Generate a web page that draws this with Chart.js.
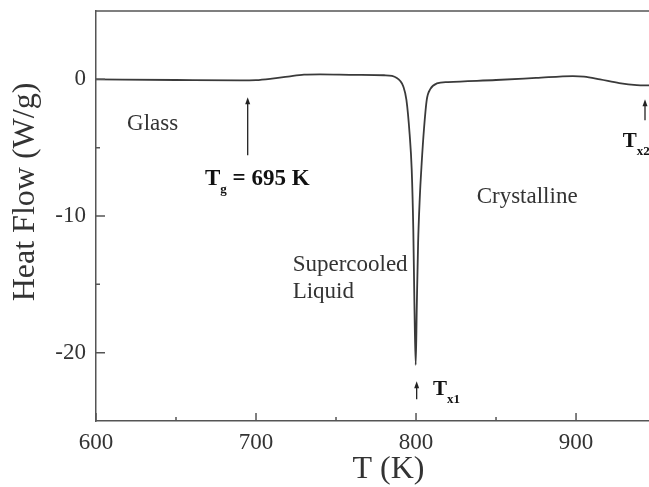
<!DOCTYPE html>
<html>
<head>
<meta charset="utf-8">
<script src="https://cdn.jsdelivr.net/npm/chart.js@4/dist/chart.umd.min.js"></script>
<style>
body{margin:0;background:#fff}
#wrap{width:649px;height:487px}
</style>
</head>
<body>
<div id="wrap"><canvas id="myChart"></canvas></div>
<script>
// DSC trace
temps = [600, 650, 690, 700, 710, 720, 730, 740, 760, 780, 785, 788, 790, 792, 794, 796, 797.3, 798.3, 799, 799.8,
         800.5, 801.3, 802.3, 803.5, 805, 806.7, 809, 813, 820, 850, 875, 898, 905, 915, 927, 938, 946]
heatFlow = [0, -0.05, -0.08, -0.06, 0.05, 0.2, 0.34, 0.36, 0.33, 0.3, 0.25, 0.1, -0.1, -0.5, -1.5, -4, -6.6, -11, -16.5, -20.9,
            -16.5, -12, -8.8, -6.2, -3.6, -1.5, -0.7, -0.3, -0.2, -0.05, 0.1, 0.24, 0.2, 0, -0.27, -0.42, -0.45]

xTicks = [600, 700, 800, 900]
xMinor = [650, 750, 850]
yTicks = [-20, -10, 0]
yMinor = [-15, -5]

serif = "'Liberation Serif','Times New Roman',serif"
ink = '#333'

// text + arrows, in data units
labels = [
  {t: 'Glass', x: 619.4, y: -3.72},
  {t: 'Supercooled', x: 722.9, y: -14.0},
  {t: 'Liquid', x: 722.9, y: -16.0},
  {t: 'Crystalline', x: 837.9, y: -9.03}
]
subLabels = [
  {t: 'T', sub: 'g', rest: ' = 695 K', x: 668.1, y: -7.74, size: 23},
  {t: 'T', sub: 'x1', rest: '', x: 810.6, y: -23.07, size: 21},
  {t: 'T', sub: 'x2', rest: '', x: 929.2, y: -4.94, size: 21}
]
arrows = [
  {x: 694.8, from: -5.55, to: -1.31},
  {x: 800.4, from: -23.4, to: -22.1},
  {x: 943.1, from: -3.0, to: -1.46}
]

extras = {
  id: 'extras',
  afterDraw(chart) {
    const ctx = chart.ctx
    const xs = chart.scales.x, ys = chart.scales.y
    const a = chart.chartArea
    ctx.save()
    ctx.strokeStyle = '#555'
    ctx.lineWidth = 1.5
    ctx.beginPath()
    ctx.moveTo(a.left, a.top)
    ctx.lineTo(a.right, a.top)
    ctx.stroke()
    // inward ticks
    ctx.beginPath()
    xTicks.forEach(v => { const p = xs.getPixelForValue(v); ctx.moveTo(p, a.bottom); ctx.lineTo(p, a.bottom - 8) })
    xMinor.forEach(v => { const p = xs.getPixelForValue(v); ctx.moveTo(p, a.bottom); ctx.lineTo(p, a.bottom - 4) })
    yTicks.forEach(v => { const p = ys.getPixelForValue(v); ctx.moveTo(a.left, p); ctx.lineTo(a.left + 9, p) })
    yMinor.forEach(v => { const p = ys.getPixelForValue(v); ctx.moveTo(a.left, p); ctx.lineTo(a.left + 4, p) })
    ctx.stroke()

    ctx.fillStyle = ink
    ctx.textBaseline = 'alphabetic'
    ctx.textAlign = 'left'
    ctx.font = '23px ' + serif
    labels.forEach(l => ctx.fillText(l.t, xs.getPixelForValue(l.x), ys.getPixelForValue(l.y)))

    ctx.fillStyle = '#111'
    subLabels.forEach(l => {
      let px = xs.getPixelForValue(l.x), py = ys.getPixelForValue(l.y)
      ctx.font = 'bold ' + l.size + 'px ' + serif
      ctx.fillText(l.t, px, py)
      px += ctx.measureText(l.t).width
      ctx.font = 'bold 13px ' + serif
      ctx.fillText(l.sub, px, py + 8)
      px += ctx.measureText(l.sub).width
      if (l.rest) {
        ctx.font = 'bold ' + l.size + 'px ' + serif
        ctx.fillText(l.rest, px, py)
      }
    })

    ctx.strokeStyle = '#222'
    ctx.fillStyle = '#222'
    ctx.lineWidth = 1.3
    arrows.forEach(ar => {
      const px = xs.getPixelForValue(ar.x)
      const y0 = ys.getPixelForValue(ar.from), y1 = ys.getPixelForValue(ar.to)
      ctx.beginPath()
      ctx.moveTo(px, y0)
      ctx.lineTo(px, y1 + 5)
      ctx.stroke()
      ctx.beginPath()
      ctx.moveTo(px, y1)
      ctx.lineTo(px - 2.5, y1 + 7)
      ctx.lineTo(px + 2.5, y1 + 7)
      ctx.closePath()
      ctx.fill()
    })
    ctx.restore()
  }
}

points = temps.map((t, i) => ({x: t, y: heatFlow[i]}))

new Chart(document.getElementById('myChart'), {
  type: 'line',
  data: {
    datasets: [{
      data: points,
      borderColor: '#3a3a3a',
      borderWidth: 1.8,
      pointRadius: 0,
      fill: false,
      cubicInterpolationMode: 'monotone'
    }]
  },
  options: {
    responsive: true,
    maintainAspectRatio: false,
    devicePixelRatio: 1,
    animation: false,
    layout: {padding: {top: 11, right: 0, bottom: 0, left: 0}},
    plugins: {legend: {display: false}, tooltip: {enabled: false}},
    scales: {
      x: {
        type: 'linear',
        min: 600,
        max: 945.6,
        afterBuildTicks: s => { s.ticks = xTicks.map(v => ({value: v})) },
        afterFit: s => { s.height = 66; s.paddingLeft = 0; s.paddingRight = 0 },
        grid: {display: false, drawTicks: false},
        border: {display: true, color: '#555', width: 1.5},
        ticks: {padding: 8, color: ink, font: {family: serif, size: 23}},
        title: {display: true, text: '    T (K)', color: ink,
                font: {family: serif, size: 32, lineHeight: 1}, padding: {top: 0, bottom: 1}}
      },
      y: {
        min: -25,
        max: 5,
        afterBuildTicks: s => { s.ticks = yTicks.map(v => ({value: v})) },
        afterFit: s => { s.width = 96; s.paddingTop = 0; s.paddingBottom = 0 },
        grid: {display: false, drawTicks: false},
        border: {display: true, color: '#555', width: 1.5},
        ticks: {padding: 10, color: ink, font: {family: serif, size: 23}},
        title: {display: true, text: '      Heat Flow (W/g)', color: ink,
                font: {family: serif, size: 32, lineHeight: 1}, padding: {top: 10, bottom: 0}}
      }
    }
  },
  plugins: [extras]
})
</script>
</body>
</html>
